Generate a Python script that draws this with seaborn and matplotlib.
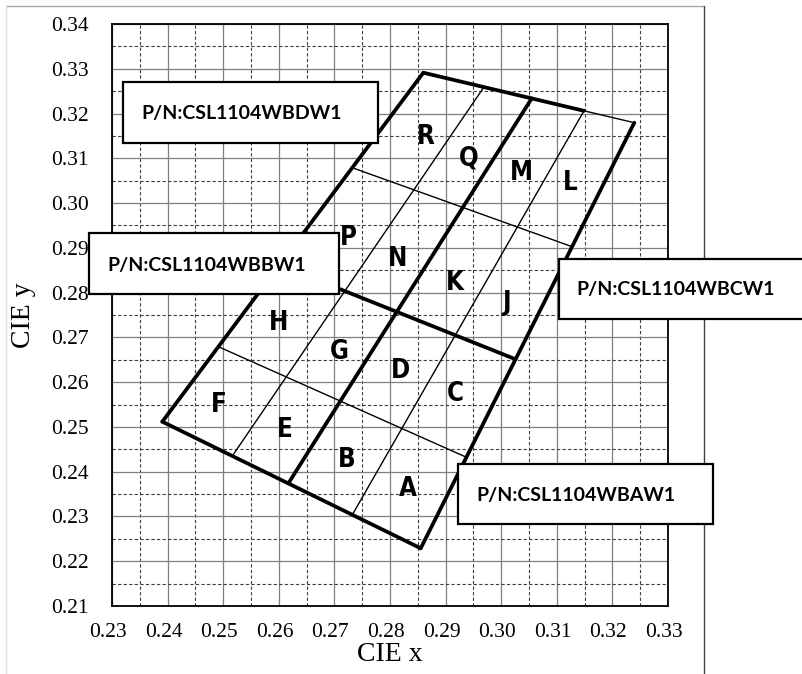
import numpy as np
import pandas as pd
import seaborn as sns
import matplotlib
matplotlib.use("Agg")
import matplotlib.pyplot as plt
from matplotlib.patches import Rectangle
from matplotlib.lines import Line2D
import matplotlib.transforms as mtransforms

# ---------------- data ----------------
x_ticks = [0.23, 0.24, 0.25, 0.26, 0.27, 0.28, 0.29, 0.30, 0.31, 0.32, 0.33]
y_ticks = [0.21, 0.22, 0.23, 0.24, 0.25, 0.26, 0.27, 0.28, 0.29, 0.30, 0.31, 0.32, 0.33, 0.34]

# segment endpoints (CIE x, CIE y)
seg_id = ["low", "low", "right", "right", "left", "left", "top1", "top1",
          "mid_s", "mid_s", "mid_c", "mid_c",
          "top2", "top2", "s1", "s1", "s3", "s3", "c1", "c1", "c3", "c3"]
seg_w = ["thick"] * 12 + ["thin"] * 10
seg_x = [0.23905, 0.28552, 0.28552, 0.32394, 0.23905, 0.28599, 0.28599, 0.31489,
         0.26171, 0.30549, 0.26013, 0.30259,
         0.31489, 0.32394, 0.25164, 0.29696, 0.27322, 0.31489, 0.24914, 0.29374, 0.27321, 0.31275]
seg_y = [0.25117, 0.22289, 0.22289, 0.31795, 0.25117, 0.32912, 0.32912, 0.32061,
         0.23738, 0.32338, 0.28617, 0.26511,
         0.32061, 0.31795, 0.24351, 0.32603, 0.23037, 0.32061, 0.26792, 0.24322, 0.30790, 0.29026]

bin_names = ["R", "Q", "M", "L", "P", "N", "K", "J", "H", "G", "D", "C", "F", "E", "B", "A"]
bin_x = [0.28647, 0.29408, 0.30369, 0.31237, 0.2725, 0.28144, 0.29169, 0.30099,
         0.2600, 0.27088, 0.28192, 0.29169, 0.24924, 0.26112, 0.27221, 0.28329]
bin_y = [0.31483, 0.31000, 0.30665, 0.30442, 0.29213, 0.28751, 0.28208, 0.27761,
         0.27315, 0.26680, 0.26256, 0.25729, 0.2549, 0.24931, 0.24261, 0.23607]

part_numbers = ["P/N:CSL1104WBDW1", "P/N:CSL1104WBBW1", "P/N:CSL1104WBCW1", "P/N:CSL1104WBAW1"]

# ---------------- figure ----------------
W, H = 803, 674
sns.set_theme(style="white")
plt.rcParams["font.family"] = ["Liberation Serif", "DejaVu Serif"]
fig = plt.figure(figsize=(W / 100, H / 100), dpi=100)
fig.patch.set_facecolor("white")

# chart area frame
fig.add_artist(Line2D([6 / W, 704 / W], [1 - 6 / H, 1 - 6 / H], transform=fig.transFigure, color="#a6a6a6", lw=1))
fig.add_artist(Line2D([6 / W, 6 / W], [1 - 6 / H, 0], transform=fig.transFigure, color="#e3e3e3", lw=1))
fig.add_artist(Line2D([704 / W, 704 / W], [1 - 6 / H, 0], transform=fig.transFigure, color="#404040", lw=1))

ax = fig.add_axes([112 / W, 1 - 606 / H, 556 / W, 582 / H])
ax.set_facecolor("white")

df = pd.DataFrame({"seg": seg_id, "w": seg_w, "x": seg_x, "y": seg_y})
sns.lineplot(data=df, x="x", y="y", units="seg", estimator=None, size="w",
             sizes={"thick": 2.7, "thin": 1.0}, color="black", legend=False,
             sort=False, ax=ax, zorder=3)

for name, bx, by in zip(bin_names, bin_x, bin_y):
    ax.text(bx, by, name, ha="center", va="center", fontsize=18.5, fontweight="bold",
            fontstretch="condensed",
            family=["DejaVu Sans"], color="black", zorder=4)

ax.set_xlim(0.23, 0.33)
ax.set_ylim(0.21, 0.34)
ax.set_xticks(x_ticks)
ax.set_yticks(y_ticks)
ax.set_xticklabels([f"{v:.2f}" for v in x_ticks])
ax.set_yticklabels([f"{v:.2f}" for v in y_ticks])
ax.set_xticks(np.arange(0.235, 0.33, 0.01), minor=True)
ax.set_yticks(np.arange(0.215, 0.34, 0.01), minor=True)
ax.grid(which="major", color="#7f7f7f", lw=0.9, ls="-", zorder=0)
ax.grid(which="minor", color="#404040", lw=0.8, ls=(0, (3, 2)), zorder=0)
ax.set_axisbelow(True)
ax.tick_params(axis="both", which="both", length=0)
ax.tick_params(axis="x", labelsize=15.5, pad=12, colors="black")
ax.tick_params(axis="y", labelsize=15.5, pad=17, colors="black")
for lab in ax.get_xticklabels():
    lab.set_transform(lab.get_transform() + mtransforms.ScaledTranslation(-4 / 100, 0, fig.dpi_scale_trans))
for s in ax.spines.values():
    s.set_visible(True)
    s.set_color("black")
    s.set_linewidth(1.3)

ax.set_xlabel("CIE x", fontsize=20, color="black")
ax.set_ylabel("CIE y", fontsize=20, color="black")
ax.xaxis.set_label_coords((390 - 112) / 556, -(642 - 606) / 582)
ax.yaxis.set_label_coords(-(112 - 36) / 556, (606 - 315) / 582)

# part number boxes (pixel positions: left, top, right, bottom, text-left, text-center-y)
boxes = [(122.7, 81.7, 378.3, 142.7, 141.7, 113),
         (89, 233.3, 339.3, 294, 107, 265.7),
         (559, 259.3, 812, 319.3, 576.7, 290),
         (457.7, 464.3, 713.3, 524, 476.7, 495)]
for txt, (l, t, r, b, tx, ty) in zip(part_numbers, boxes):
    rect = Rectangle((l / W, 1 - b / H), (r - l) / W, (b - t) / H, transform=fig.transFigure,
                     facecolor="white", edgecolor="black", lw=1.6, zorder=10, clip_on=False)
    fig.add_artist(rect)
    fig.text(tx / W, 1 - ty / H, txt, ha="left", va="center", fontsize=14, fontweight="bold",
             family=["Lato", "DejaVu Sans"], color="black", zorder=11)

fig.savefig("out.png", dpi=100, facecolor="white")
